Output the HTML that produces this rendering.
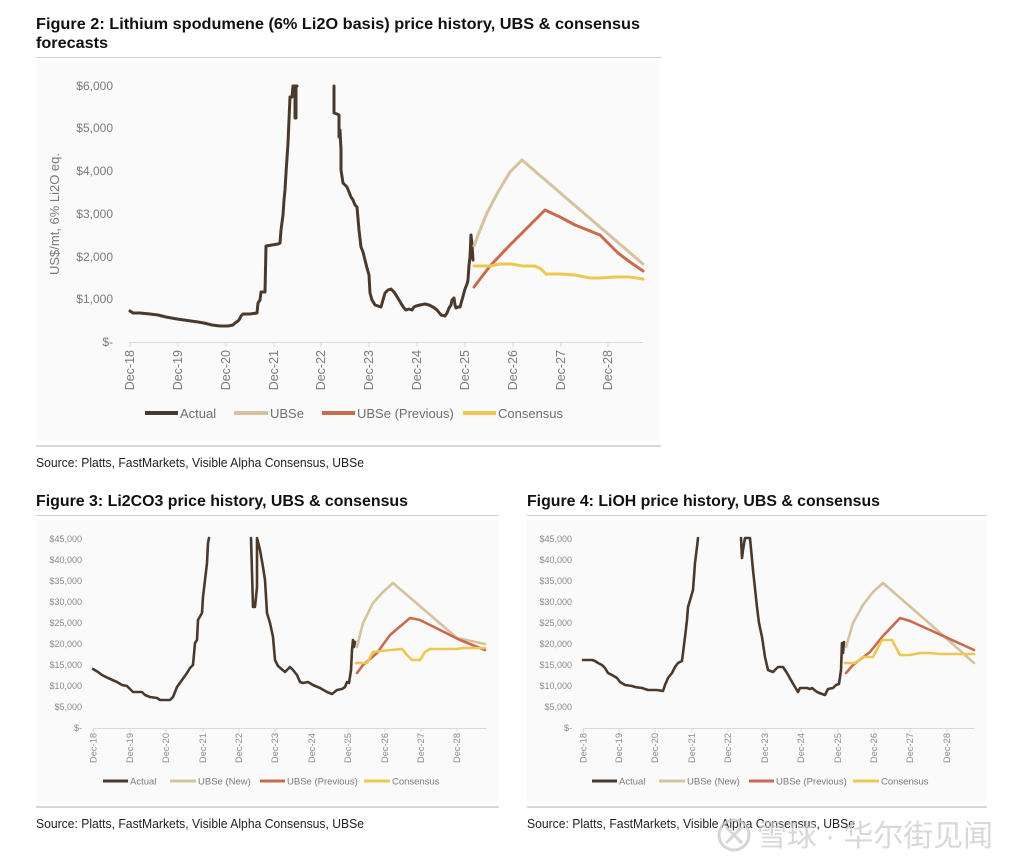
<!DOCTYPE html>
<html><head><meta charset="utf-8"><style>
html,body{margin:0;padding:0;background:#fff;}
svg{display:block;}
text{font-family:"Liberation Sans","Noto Sans CJK SC",sans-serif;}
</style></head><body>
<svg width="1024" height="865" viewBox="0 0 1024 865" xmlns="http://www.w3.org/2000/svg">
<rect width="1024" height="865" fill="#fff"/>

<!-- ============ FIGURE 2 ============ -->
<text x="36" y="29" font-size="16" font-weight="bold" fill="#111" textLength="604" lengthAdjust="spacingAndGlyphs">Figure 2: Lithium spodumene (6% Li2O basis) price history, UBS &amp; consensus</text>
<text x="36" y="48" font-size="16" font-weight="bold" fill="#111" textLength="72" lengthAdjust="spacingAndGlyphs">forecasts</text>
<line x1="36" y1="57.5" x2="661" y2="57.5" stroke="#cfcfcf" stroke-width="1"/>
<rect x="36" y="63" width="624" height="378" fill="#fafafa"/>
<line x1="36" y1="446" x2="661" y2="446" stroke="#d8d8d8" stroke-width="2"/>
<text x="36" y="467" font-size="12.5" fill="#222" textLength="328" lengthAdjust="spacingAndGlyphs">Source: Platts, FastMarkets, Visible Alpha Consensus, UBSe</text>

<g font-size="12" fill="#7a7a7a" text-anchor="end">
<text x="113" y="90">$6,000</text>
<text x="113" y="132">$5,000</text>
<text x="113" y="175">$4,000</text>
<text x="113" y="218">$3,000</text>
<text x="113" y="261">$2,000</text>
<text x="113" y="303">$1,000</text>
<text x="113" y="346">$-</text>
</g>
<text transform="translate(59,214) rotate(-90)" font-size="12.5" fill="#7a7a7a" text-anchor="middle" textLength="122" lengthAdjust="spacingAndGlyphs">US$/mt, 6% Li2O eq.</text>

<line x1="130" y1="342.5" x2="643" y2="342.5" stroke="#d9d9d9" stroke-width="1"/>
<g stroke="#d9d9d9" stroke-width="1">
<line x1="130" y1="342" x2="130" y2="347"/><line x1="178" y1="342" x2="178" y2="347"/><line x1="226" y1="342" x2="226" y2="347"/><line x1="274" y1="342" x2="274" y2="347"/><line x1="321" y1="342" x2="321" y2="347"/><line x1="369" y1="342" x2="369" y2="347"/><line x1="417" y1="342" x2="417" y2="347"/><line x1="465" y1="342" x2="465" y2="347"/><line x1="513" y1="342" x2="513" y2="347"/><line x1="561" y1="342" x2="561" y2="347"/><line x1="608" y1="342" x2="608" y2="347"/>
</g>
<g font-size="12.5" fill="#7a7a7a" text-anchor="end">
<text transform="translate(134,350) rotate(-90)">Dec-18</text>
<text transform="translate(182,350) rotate(-90)">Dec-19</text>
<text transform="translate(230,350) rotate(-90)">Dec-20</text>
<text transform="translate(278,350) rotate(-90)">Dec-21</text>
<text transform="translate(325,350) rotate(-90)">Dec-22</text>
<text transform="translate(373,350) rotate(-90)">Dec-23</text>
<text transform="translate(421,350) rotate(-90)">Dec-24</text>
<text transform="translate(469,350) rotate(-90)">Dec-25</text>
<text transform="translate(517,350) rotate(-90)">Dec-26</text>
<text transform="translate(565,350) rotate(-90)">Dec-27</text>
<text transform="translate(612,350) rotate(-90)">Dec-28</text>
</g>

<g fill="none" stroke-linejoin="round" stroke-linecap="round" stroke-width="3">
<polyline stroke="#4b3a2c" points="130,311 133,313 140,313 150,314 158,315 166,317 177,319 184,320 191,321 198,322 204,323 212,325 220,326 228,326 233,325 235,323 238,321 239,320 241,316 243,314 250,314 257,313 258,303 260,300 261,292 265,292 266,246 272,245 278,244 280,243 281,230 283,215 284,200 285,190 286,173 288,143 290,97 292,97 293,86 295,86 295,118 296,118 296,86 297,86"/>
<polyline stroke="#4b3a2c" points="334,86 334,113 337,114 339,115 339,137 340,130 341,150 341,170 343,183 347,187 349,192 351,197 353,200 355,205 357,207 359,230 361,247 363,252 365,260 367,268 369,275 370,293 372,300 375,305 378,306 381,307 383,300 385,293 388,290 391,289 394,292 396,295 399,300 402,305 404,308 406,310 409,309 412,310 414,307 416,306 420,305 425,304 429,305 433,307 437,310 441,315 445,316 447,313 449,308 451,305 452,300 454,298 455,305 456,308 458,307 460,307 462,300 465,289 467,284 468,280 469,265 470,257 471,235 472,245 473,260"/>
<polyline stroke="#d6c29d" points="474,246 480,230 487,213 498,192 510,172 522,160 643,264"/>
<polyline stroke="#c96a4d" points="474,287 490,266 510,245 545,210 560,217 575,225 590,231 600,235 618,253 630,262 643,271"/>
<polyline stroke="#efc650" points="474,266 490,266 500,264 512,264 522,266 535,266 541,269 546,274 560,274 575,275 590,278 600,278 615,277 630,277 643,279"/>
</g>

<g stroke-width="4">
<line x1="145" y1="413" x2="178" y2="413" stroke="#4b3a2c"/>
<line x1="234" y1="413" x2="268" y2="413" stroke="#d6c29d"/>
<line x1="322" y1="413" x2="355" y2="413" stroke="#c96a4d"/>
<line x1="463" y1="413" x2="496" y2="413" stroke="#efc650"/>
</g>
<g font-size="13" fill="#6e6e6e">
<text x="180" y="418">Actual</text>
<text x="270" y="418">UBSe</text>
<text x="357" y="418">UBSe (Previous)</text>
<text x="498" y="418">Consensus</text>
</g>

<!-- ============ FIGURE 3 ============ -->
<text x="36" y="506" font-size="16" font-weight="bold" fill="#111" textLength="372" lengthAdjust="spacingAndGlyphs">Figure 3: Li2CO3 price history, UBS &amp; consensus</text>
<line x1="36" y1="515.5" x2="499" y2="515.5" stroke="#cfcfcf" stroke-width="1"/>
<rect x="36" y="520" width="463" height="281" fill="#fafafa"/>
<line x1="36" y1="807" x2="499" y2="807" stroke="#d8d8d8" stroke-width="2"/>
<text x="36" y="828" font-size="12.5" fill="#222" textLength="328" lengthAdjust="spacingAndGlyphs">Source: Platts, FastMarkets, Visible Alpha Consensus, UBSe</text>

<g font-size="9" fill="#8a8a8a" text-anchor="end">
<text x="82" y="542">$45,000</text>
<text x="82" y="563">$40,000</text>
<text x="82" y="584">$35,000</text>
<text x="82" y="605">$30,000</text>
<text x="82" y="626">$25,000</text>
<text x="82" y="647">$20,000</text>
<text x="82" y="668">$15,000</text>
<text x="82" y="689">$10,000</text>
<text x="82" y="710">$5,000</text>
<text x="82" y="731">$-</text>
</g>
<line x1="93" y1="728.5" x2="487" y2="728.5" stroke="#d9d9d9" stroke-width="1"/>
<g stroke="#d9d9d9" stroke-width="1">
<line x1="93.5" y1="728" x2="93.5" y2="732"/><line x1="130" y1="728" x2="130" y2="732"/><line x1="166" y1="728" x2="166" y2="732"/><line x1="203" y1="728" x2="203" y2="732"/><line x1="239" y1="728" x2="239" y2="732"/><line x1="275" y1="728" x2="275" y2="732"/><line x1="312" y1="728" x2="312" y2="732"/><line x1="348" y1="728" x2="348" y2="732"/><line x1="385" y1="728" x2="385" y2="732"/><line x1="421" y1="728" x2="421" y2="732"/><line x1="457" y1="728" x2="457" y2="732"/>
</g>
<g font-size="9.3" fill="#8a8a8a" text-anchor="end">
<text transform="translate(96.5,733) rotate(-90)">Dec-18</text>
<text transform="translate(133,733) rotate(-90)">Dec-19</text>
<text transform="translate(169,733) rotate(-90)">Dec-20</text>
<text transform="translate(206,733) rotate(-90)">Dec-21</text>
<text transform="translate(242,733) rotate(-90)">Dec-22</text>
<text transform="translate(278,733) rotate(-90)">Dec-23</text>
<text transform="translate(315,733) rotate(-90)">Dec-24</text>
<text transform="translate(351,733) rotate(-90)">Dec-25</text>
<text transform="translate(388,733) rotate(-90)">Dec-26</text>
<text transform="translate(424,733) rotate(-90)">Dec-27</text>
<text transform="translate(460,733) rotate(-90)">Dec-28</text>
</g>
<g fill="none" stroke-linejoin="round" stroke-linecap="round" stroke-width="2.6">
<polyline stroke="#4b3a2c" points="93,669 98,672 102,675 108,678 117,682 122,685 127,686 130,689 133,692 142,692 145,695 150,697 157,698 160,700 170,700 173,697 177,687 182,680 187,673 190,668 193,665 195,643 197,640 198,620 202,613 203,597 205,580 207,563 208,543 209,538"/>
<polyline stroke="#4b3a2c" points="251,538 253,607 255,607 257,587 257,538 260,550 263,567 265,580 267,613 270,623 273,637 275,660 278,666 285,672 290,667 293,670 297,675 300,682 303,683 308,682 313,685 320,688 327,692 332,694 337,690 342,689 345,687 347,682 349,683 351,670 352,650 353,640 354,647 355,642"/>
<polyline stroke="#d6c29d" points="357,647 363,623 373,603 383,592 393,583 457,638 485,644"/>
<polyline stroke="#c96a4d" points="357,673 363,665 377,653 390,635 410,618 420,620 430,625 460,640 485,650"/>
<polyline stroke="#efc650" points="356,663 367,663 373,652 390,650 402,649 407,655 412,660 420,660 425,652 430,649 457,649 463,648 485,648"/>
</g>
<g stroke-width="3">
<line x1="103" y1="781" x2="128" y2="781" stroke="#4b3a2c"/>
<line x1="170" y1="781" x2="196" y2="781" stroke="#d6c29d"/>
<line x1="260" y1="781" x2="285" y2="781" stroke="#c96a4d"/>
<line x1="364" y1="781" x2="390" y2="781" stroke="#efc650"/>
</g>
<g font-size="9.5" fill="#7a7a7a">
<text x="130" y="784.5">Actual</text>
<text x="198" y="784.5">UBSe (New)</text>
<text x="287" y="784.5">UBSe (Previous)</text>
<text x="392" y="784.5">Consensus</text>
</g>

<!-- ============ FIGURE 4 ============ -->
<text x="527" y="506" font-size="16" font-weight="bold" fill="#111" textLength="353" lengthAdjust="spacingAndGlyphs">Figure 4: LiOH price history, UBS &amp; consensus</text>
<line x1="527" y1="515.5" x2="987" y2="515.5" stroke="#cfcfcf" stroke-width="1"/>
<rect x="527" y="520" width="460" height="281" fill="#fafafa"/>
<line x1="527" y1="807" x2="987" y2="807" stroke="#d8d8d8" stroke-width="2"/>
<text x="527" y="828" font-size="12.5" fill="#222" textLength="328" lengthAdjust="spacingAndGlyphs">Source: Platts, FastMarkets, Visible Alpha Consensus, UBSe</text>

<g font-size="9" fill="#8a8a8a" text-anchor="end">
<text x="572" y="542">$45,000</text>
<text x="572" y="563">$40,000</text>
<text x="572" y="584">$35,000</text>
<text x="572" y="605">$30,000</text>
<text x="572" y="626">$25,000</text>
<text x="572" y="647">$20,000</text>
<text x="572" y="668">$15,000</text>
<text x="572" y="689">$10,000</text>
<text x="572" y="710">$5,000</text>
<text x="572" y="731">$-</text>
</g>
<line x1="583" y1="728.5" x2="974" y2="728.5" stroke="#d9d9d9" stroke-width="1"/>
<g stroke="#d9d9d9" stroke-width="1">
<line x1="583.5" y1="728" x2="583.5" y2="732"/><line x1="619" y1="728" x2="619" y2="732"/><line x1="655" y1="728" x2="655" y2="732"/><line x1="692" y1="728" x2="692" y2="732"/><line x1="728" y1="728" x2="728" y2="732"/><line x1="765" y1="728" x2="765" y2="732"/><line x1="801" y1="728" x2="801" y2="732"/><line x1="838" y1="728" x2="838" y2="732"/><line x1="874" y1="728" x2="874" y2="732"/><line x1="910" y1="728" x2="910" y2="732"/><line x1="947" y1="728" x2="947" y2="732"/>
</g>
<g font-size="9.3" fill="#8a8a8a" text-anchor="end">
<text transform="translate(586.5,733) rotate(-90)">Dec-18</text>
<text transform="translate(622,733) rotate(-90)">Dec-19</text>
<text transform="translate(658,733) rotate(-90)">Dec-20</text>
<text transform="translate(695,733) rotate(-90)">Dec-21</text>
<text transform="translate(731,733) rotate(-90)">Dec-22</text>
<text transform="translate(768,733) rotate(-90)">Dec-23</text>
<text transform="translate(804,733) rotate(-90)">Dec-24</text>
<text transform="translate(841,733) rotate(-90)">Dec-25</text>
<text transform="translate(877,733) rotate(-90)">Dec-26</text>
<text transform="translate(913,733) rotate(-90)">Dec-27</text>
<text transform="translate(950,733) rotate(-90)">Dec-28</text>
</g>
<g fill="none" stroke-linejoin="round" stroke-linecap="round" stroke-width="2.6">
<polyline stroke="#4b3a2c" points="583,660 592,660 595,661 598,663 602,665 605,668 608,673 612,675 617,678 620,682 625,685 632,686 635,687 642,688 648,690 657,690 663,691 665,685 668,678 672,673 675,667 678,663 682,661 683,653 685,637 687,620 688,607 691,597 693,590 695,563 697,547 698,538"/>
<polyline stroke="#4b3a2c" points="741,538 742,558 743,550 745,538 750,538 753,570 757,607 759,623 762,637 765,657 768,670 773,672 778,667 780,667 783,667 787,673 792,682 795,687 798,692 800,688 807,688 810,689 812,688 817,692 822,694 825,695 828,689 833,688 836,685 839,684 841,670 842,643 843,653 844,642"/>
<polyline stroke="#d6c29d" points="846,647 853,623 863,605 873,592 883,583 937,630 974,663"/>
<polyline stroke="#c96a4d" points="846,673 853,665 870,652 882,637 900,618 910,621 930,630 974,650"/>
<polyline stroke="#efc650" points="845,663 855,663 863,657 873,657 882,640 892,640 900,655 910,655 920,653 930,653 940,654 974,654"/>
</g>
<g stroke-width="3">
<line x1="592" y1="781" x2="617" y2="781" stroke="#4b3a2c"/>
<line x1="659" y1="781" x2="685" y2="781" stroke="#d6c29d"/>
<line x1="749" y1="781" x2="774" y2="781" stroke="#c96a4d"/>
<line x1="853" y1="781" x2="879" y2="781" stroke="#efc650"/>
</g>
<g font-size="9.5" fill="#7a7a7a">
<text x="619" y="784.5">Actual</text>
<text x="687" y="784.5">UBSe (New)</text>
<text x="776" y="784.5">UBSe (Previous)</text>
<text x="881" y="784.5">Consensus</text>
</g>

<!-- watermark -->
<g opacity="0.75">
<circle cx="734" cy="835" r="15" fill="none" stroke="#c8c8c8" stroke-width="3"/>
<path d="M726 827 L742 843 M742 827 L726 843" stroke="#c8c8c8" stroke-width="3" fill="none"/>
<text x="757" y="846" font-size="30" fill="#cccccc" font-family="'Noto Sans CJK SC',sans-serif" textLength="236" lengthAdjust="spacingAndGlyphs">雪球 · 华尔街见闻</text>
</g>
</svg>
</body></html>
